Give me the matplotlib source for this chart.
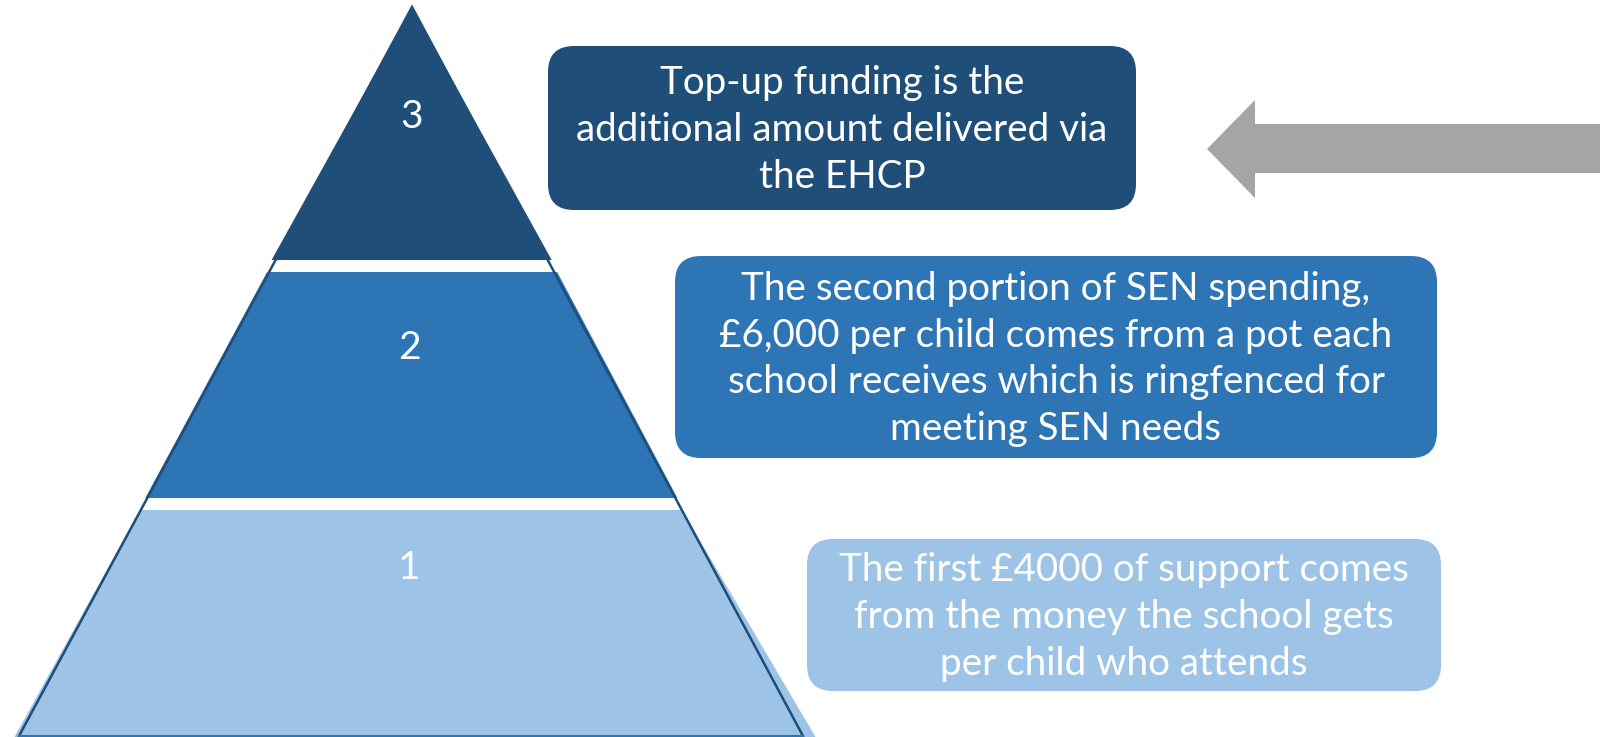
import matplotlib.pyplot as plt
from matplotlib.patches import Polygon, FancyBboxPatch

plt.rcParams['font.family'] = ['Lato', 'DejaVu Sans']

# tiers from top (3) to bottom (1)
tier_labels = ['3', '2', '1']
tier_colors = ['#1F4E79', '#2E75B6', '#9DC3E6']
descriptions = [
    'Top-up funding is the\nadditional amount delivered via\nthe EHCP',
    'The second portion of SEN spending,\n£6,000 per child comes from a pot each\nschool receives which is ringfenced for\nmeeting SEN needs',
    'The first £4000 of support comes\nfrom the money the school gets\nper child who attends',
]

W, H = 1600, 737
fig = plt.figure(figsize=(W / 100, H / 100), dpi=100)
ax = fig.add_axes([0, 0, 1, 1])
ax.set_xlim(0, W)
ax.set_ylim(H, 0)
ax.axis('off')

# pyramid outline
apex = (412, 7)
base_l, base_r, base_y = 19, 803, 736


def edge_x(y, side):
    t = (y - apex[1]) / (base_y - apex[1])
    end = base_l if side == 'l' else base_r
    return apex[0] + (end - apex[0]) * t


# vertical extent of each tier (top, bottom), white gaps between
bands = [(apex[1], 260), (272, 498), (510, H)]
for i, ((y0, y1), col) in enumerate(zip(bands, tier_colors)):
    if i == 0:
        pts = [apex, (edge_x(y1, 'l') - 4, y1), (edge_x(y1, 'r') + 4, y1)]
    elif i == 1:
        pts = [(edge_x(y0, 'l') - 2, y0), (edge_x(y0, 'r') + 3, y0),
               (edge_x(y1, 'r') + 2, y1), (edge_x(y1, 'l') - 2, y1)]
    else:
        # light fill spills a little past the outline near the base
        pts = [(edge_x(y0, 'l') - 1, y0), (edge_x(y0, 'r'), y0),
               (edge_x(y1, 'r') + 12, y1), (edge_x(y1, 'l') - 4, y1)]
    ax.add_patch(Polygon(pts, closed=True, facecolor=col, edgecolor='none'))

ax.plot([base_l, apex[0], base_r], [base_y, apex[1], base_y], color='#1F4E79', lw=1.8,
        solid_joinstyle='miter')
ax.plot([base_l, base_r], [base_y, base_y], color='#2E75B6', lw=1.5)

label_pos = [(412, 117), (409, 348), (409, 568)]
for lab, (x, y) in zip(tier_labels, label_pos):
    ax.text(x, y, lab, color='white', fontsize=28, fontweight='normal',
            ha='center', va='center')

# description boxes (x0, y0, x1, y1)
boxes = [(548, 46, 1136, 210), (675, 256, 1437, 458), (807, 539, 1441, 691)]
for (x0, y0, x1, y1), col, txt in zip(boxes, tier_colors, descriptions):
    ax.add_patch(FancyBboxPatch((x0, y0), x1 - x0, y1 - y0,
                                boxstyle='round,pad=0,rounding_size=26',
                                facecolor=col, edgecolor='none'))
    ax.text((x0 + x1) / 2, (y0 + y1) / 2 + 2, txt, color='white', fontsize=27.8,
            ha='center', va='center', linespacing=1.37)

# grey arrow pointing at the top box
arrow = [(1207, 149), (1255, 100), (1255, 124), (1600, 124),
         (1600, 173), (1255, 173), (1255, 198)]
ax.add_patch(Polygon(arrow, closed=True, facecolor='#A5A5A5', edgecolor='none'))

fig.savefig('out.png', dpi=100)
